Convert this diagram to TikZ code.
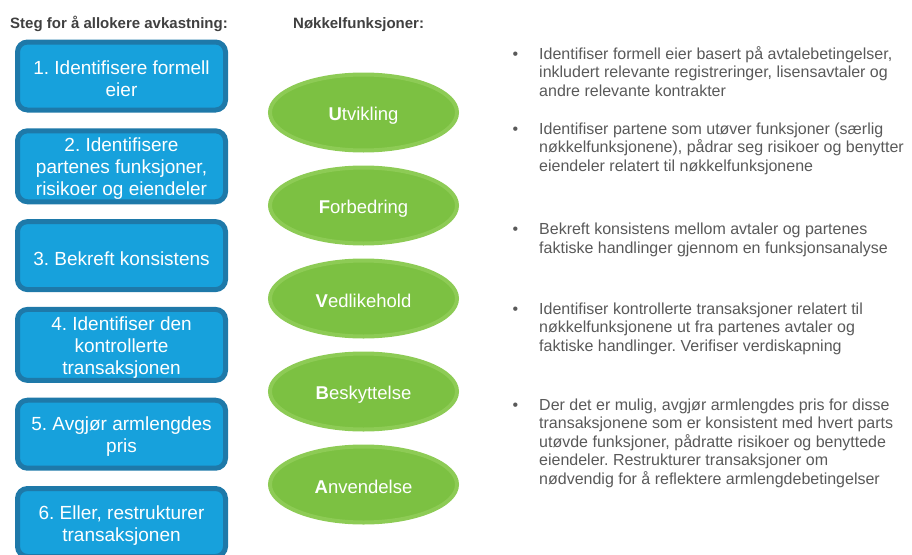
\documentclass[tikz,border=0pt]{standalone}
\usepackage{fontspec}
\setmainfont{Liberation Sans}
\frenchspacing
\usetikzlibrary{shapes.geometric}

\definecolor{stepfill}{HTML}{17A1DC}
\definecolor{stepline}{HTML}{1E79A9}
\definecolor{funcfill}{HTML}{7CC142}
\definecolor{funcline}{HTML}{8DCB55}
\definecolor{headgray}{HTML}{404040}
\definecolor{bodygray}{HTML}{595959}

% a tall strut on the first line sets the text a little below the middle
\newcommand{\tallfirst}{\rule{0pt}{19pt}}

\tikzset{
  stepbox/.style={draw=stepline, fill=stepfill, line width=5pt, rounded corners=10pt,
    minimum width=208pt, minimum height=68pt, inner sep=2pt, align=center,
    text=white, font=\fontsize{19}{22}\selectfont},
  funcoval/.style={ellipse, draw=funcline, fill=funcfill, line width=4pt,
    minimum width=187pt, minimum height=76pt, inner sep=0pt,
    text=white, font=\fontsize{18.5}{22}\selectfont},
  heading/.style={anchor=base west, inner sep=0pt, text=headgray,
    font=\fontsize{15}{18}\selectfont\bfseries},
  % placed by the baseline of the last line
  bullettext/.style={anchor=base west, inner sep=0pt, align=left, text=bodygray,
    font=\fontsize{16}{18.5}\selectfont}
}
\newcommand{\bulletmark}{\leavevmode\llap{\textbullet\hspace{21pt}}}

\begin{document}
\begin{tikzpicture}[x=1pt, y=-1pt]
  \useasboundingbox (0,0) rectangle (912,554);

  % column headings
  \node[heading] (h1) at (10,28) {Steg for å allokere avkastning:};
  \node[heading] (h2) at (293,28) {Nøkkelfunksjoner:};

  % allocation steps
  \node[stepbox] (s1) at (121.5,76.0)  {\tallfirst 1. Identifisere formell\\eier};
  \node[stepbox] (s2) at (121.5,166.3) {\tallfirst 2. Identifisere\\partenes funksjoner,\\risikoer og eiendeler};
  \node[stepbox] (s3) at (121.5,255.6) {\tallfirst 3. Bekreft konsistens};
  \node[stepbox] (s4) at (121.5,344.9) {\tallfirst 4. Identifiser den\\kontrollerte\\transaksjonen};
  \node[stepbox] (s5) at (121.5,434.2) {\tallfirst 5. Avgjør armlengdes\\pris};
  \node[stepbox] (s6) at (121.5,522.5) {\tallfirst 6. Eller, restrukturer\\transaksjonen};

  % key functions
  \node[funcoval] (f1) at (363.5,112.5) {\tallfirst\textbf{U}tvikling};
  \node[funcoval] (f2) at (363.5,205.5) {\tallfirst\textbf{F}orbedring};
  \node[funcoval] (f3) at (363.5,298.5) {\tallfirst\textbf{V}edlikehold};
  \node[funcoval] (f4) at (363.5,391.5) {\tallfirst\textbf{B}eskyttelse};
  \node[funcoval] (f5) at (363.5,484.5) {\tallfirst\textbf{A}nvendelse};

  % descriptions
  \node[bullettext] (b1) at (539,96) {\bulletmark Identifiser formell eier basert på avtalebetingelser,\\
    inkludert relevante registreringer, lisensavtaler og\\andre relevante kontrakter};
  \node[bullettext] (b2) at (539,171) {\bulletmark Identifiser partene som utøver funksjoner (særlig\\
    nøkkelfunksjonene), pådrar seg risikoer og benytter\\eiendeler relatert til nøkkelfunksjonene};
  \node[bullettext] (b3) at (539,253) {\bulletmark Bekreft konsistens mellom avtaler og partenes\\
    faktiske handlinger gjennom en funksjonsanalyse};
  \node[bullettext] (b4) at (539,351) {\bulletmark Identifiser kontrollerte transaksjoner relatert til\\
    nøkkelfunksjonene ut fra partenes avtaler og\\faktiske handlinger. Verifiser verdiskapning};
  \node[bullettext] (b5) at (539,484) {\bulletmark Der det er mulig, avgjør armlengdes pris for disse\\
    transaksjonene som er konsistent med hvert parts\\utøvde funksjoner, pådratte risikoer og benyttede\\
    eiendeler. Restrukturer transaksjoner om\\nødvendig for å reflektere armlengdebetingelser};
\end{tikzpicture}
\end{document}
